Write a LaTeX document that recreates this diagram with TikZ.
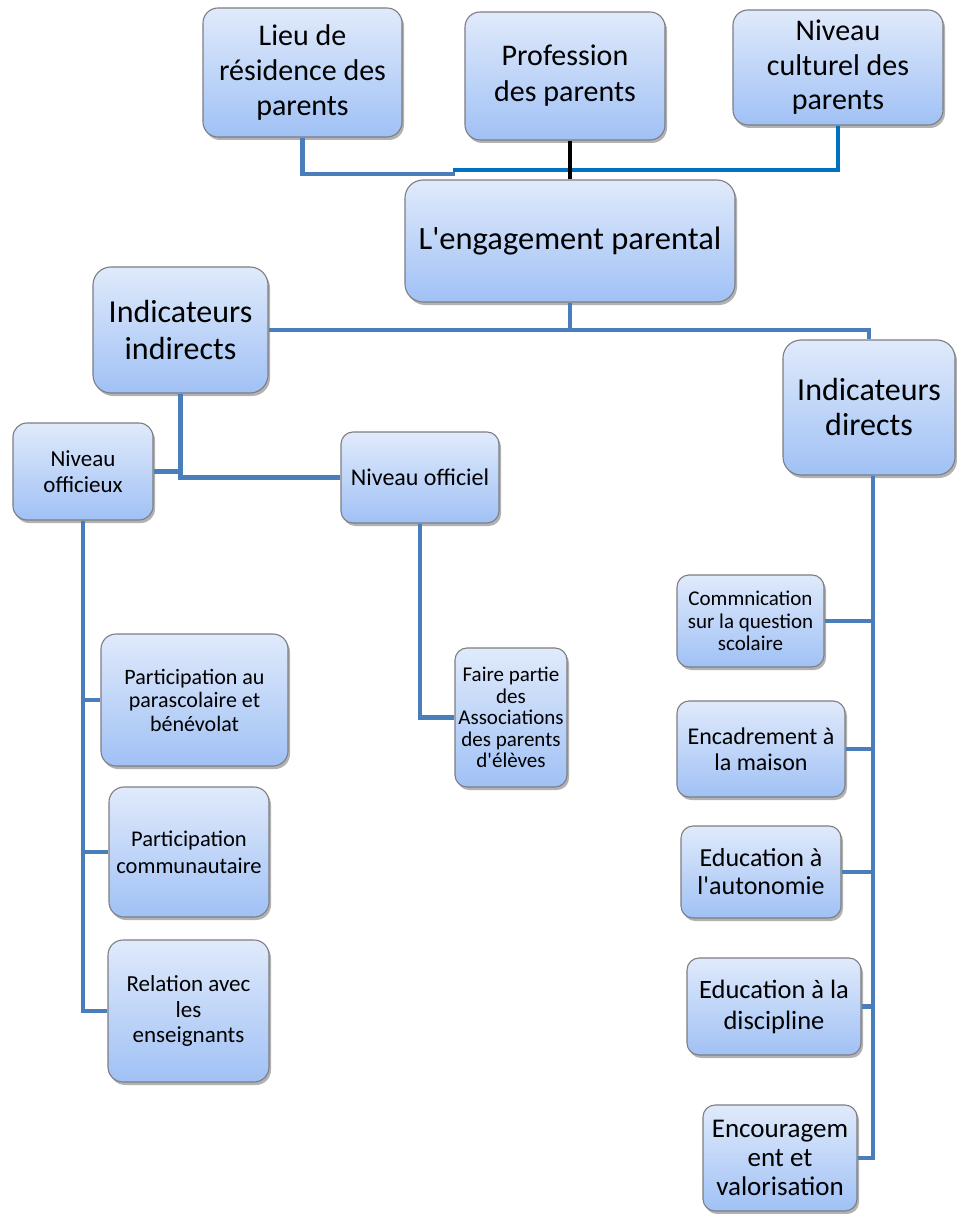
\documentclass[tikz,border=0pt]{standalone}
\usepackage{fontspec}
\setmainfont{Carlito}[Ligatures=TeXOff]
\usetikzlibrary{shadows}
\definecolor{conncol}{RGB}{74,126,187}
\definecolor{conndark}{RGB}{0,112,192}
\definecolor{boxtop}{RGB}{224,234,251}
\definecolor{boxbot}{RGB}{160,193,245}
\definecolor{boxedge}{RGB}{125,125,130}
\newcommand{\fs}[2]{\fontsize{#1}{#2}\selectfont}
\tikzset{
  box/.style={rectangle, rounded corners=15pt, draw=boxedge, line width=1.1pt,
    top color=boxtop, bottom color=boxbot, align=center, inner sep=1pt,
    drop shadow={shadow xshift=2pt, shadow yshift=-3pt, opacity=0.3, fill=black}},
  conn/.style={draw=conncol, line width=4.5pt},
  conndk/.style={draw=conndark, line width=4.5pt},
  connbk/.style={draw=black, line width=4pt},
}
\begin{document}
\begin{tikzpicture}[x=1pt,y=-1pt]
\useasboundingbox (0,0) rectangle (957,1214);
\coordinate (barL) at (455,174);
\coordinate (barR) at (453,170);
% boxes
\node[box, minimum width=199pt, minimum height=129pt, font=\fs{30}{35}] (lieu) at (302.5,72.5) {Lieu de\\résidence des\\parents};
\node[box, minimum width=200pt, minimum height=128pt, font=\fs{30}{36}] (prof) at (565,76) {Profession\\des parents};
\node[box, minimum width=210pt, minimum height=115pt, font=\fs{30}{34.5}] (cult) at (838,67.5) {Niveau\\culturel des\\parents};
\node[box, minimum width=330pt, minimum height=122pt, rounded corners=18pt, font=\fs{32.5}{36}] (eng) at (570,241) {L'engagement parental};
\node[box, minimum width=175pt, minimum height=126pt, rounded corners=18pt, font=\fs{32}{37}] (ind) at (180.5,330) {Indicateurs\\indirects};
\node[box, minimum width=172pt, minimum height=135pt, rounded corners=18pt, font=\fs{32}{35}] (dir) at (869,407.5) {Indicateurs\\directs};
\node[box, minimum width=140pt, minimum height=97pt, rounded corners=14pt, font=\fs{23}{26}] (offx) at (83,471.5) {Niveau\\officieux};
\node[box, minimum width=158pt, minimum height=91pt, rounded corners=12pt, font=\fs{24}{26}] (offl) at (420,477.5) {Niveau officiel};
\node[box, minimum width=187pt, minimum height=132pt, font=\fs{22}{23.5}] (para) at (194.5,700) {Participation au\\parascolaire et\\bénévolat};
\node[box, minimum width=160pt, minimum height=130pt, font=\fs{22.5}{27}] (comu) at (189,852) {Participation\\communautaire};
\node[box, minimum width=161pt, minimum height=142pt, font=\fs{23}{25.5}] (rel) at (188.5,1011) {Relation avec\\les\\enseignants};
\node[box, minimum width=112pt, minimum height=139pt, rounded corners=12pt, font=\fs{21}{21.5}] (faire) at (511,717.5) {Faire partie\\des\\Associations\\des parents\\d'élèves};
\node[box, minimum width=147pt, minimum height=92pt, rounded corners=12pt, font=\fs{21}{22.5}] (comm) at (750.5,621) {Commnication\\sur la question\\scolaire};
\node[box, minimum width=168pt, minimum height=96pt, rounded corners=12pt, font=\fs{24}{26}] (enca) at (761,749) {Encadrement à\\la maison};
\node[box, minimum width=160pt, minimum height=92pt, rounded corners=12pt, font=\fs{26}{28}] (auto) at (761,872) {Education à\\l'autonomie};
\node[box, minimum width=174pt, minimum height=97pt, rounded corners=12pt, font=\fs{26.5}{31}] (disc) at (774,1006.5) {Education à la\\discipline};
\node[box, minimum width=154pt, minimum height=106pt, rounded corners=12pt, font=\fs{27}{29}] (enc) at (780,1158) {Encouragem\\ent et\\valorisation};
\coordinate (dirS) at ([xshift=4pt]dir.south);
% connectors
\draw[conn] (lieu.south) |- (barL);
\draw[conndk] (cult.south) |- (barR);
\draw[connbk] (eng.north) -- (eng.north |- prof.south);
\draw[conn] (eng.south) -- (eng.south |- ind.east);
\draw[conn] (ind.east) -| (dir.north);
\draw[conn] (ind.south) |- (offl.west);
\draw[conn] (offx.east) -- (offx.east -| ind.south);
\draw[conn] (offx.south) |- (rel.west);
\draw[conn] (para.west) -- (para.west -| offx.south);
\draw[conn] (comu.west) -- (comu.west -| offx.south);
\draw[conn] (offl.south) |- (faire.west);
\draw[conn] (dirS) |- (enc.east);
\draw[conn] (comm.east) -- (comm.east -| dirS);
\draw[conn] (enca.east) -- (enca.east -| dirS);
\draw[conn] (auto.east) -- (auto.east -| dirS);
\draw[conn] (disc.east) -- (disc.east -| dirS);
\end{tikzpicture}
\end{document}
